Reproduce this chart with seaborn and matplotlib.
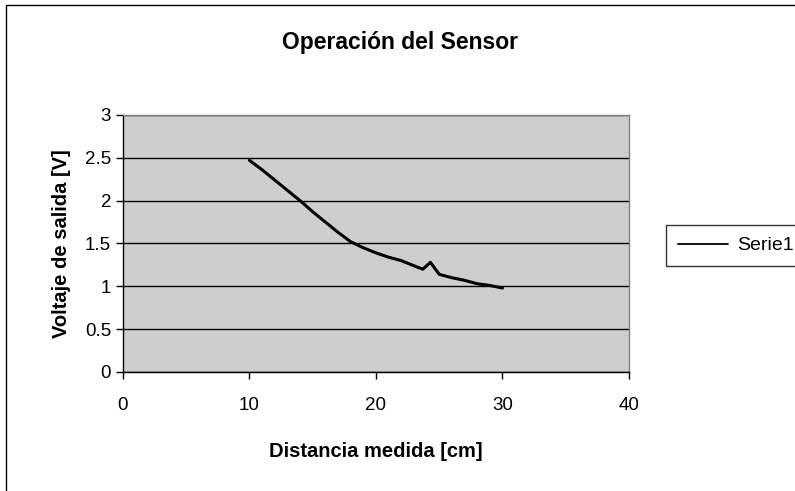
import matplotlib
matplotlib.use("Agg")
import matplotlib.pyplot as plt
import seaborn as sns
import pandas as pd
from matplotlib.patches import Rectangle

distance = [10, 11, 12, 13, 14, 15, 16, 17, 18, 19, 20, 21, 22, 23, 23.7, 24, 24.3, 24.6, 25, 26, 27, 28, 29, 30]
voltage = [2.47, 2.36, 2.24, 2.12, 2.00, 1.87, 1.75, 1.63, 1.52, 1.45, 1.39, 1.34, 1.30, 1.24, 1.20, 1.24, 1.28, 1.22, 1.14, 1.10, 1.07, 1.03, 1.01, 0.98]
series_name = "Serie1"
x_ticks = [0, 10, 20, 30, 40]
y_ticks = [0, 0.5, 1, 1.5, 2, 2.5, 3]
y_tick_labels = ["0", "0.5", "1", "1.5", "2", "2.5", "3"]

df = pd.DataFrame({"Distancia": distance, "Voltaje": voltage, "Serie": series_name})

sns.set_theme(style="white")
plt.rcParams['font.family'] = ['Liberation Sans', 'DejaVu Sans']
plt.rcParams['text.color'] = '#000000'
plt.rcParams['axes.labelcolor'] = '#000000'

fig = plt.figure(figsize=(7.95, 4.91), dpi=100)
ax = fig.add_axes([0.1547, 0.2424, 0.6365, 0.5234])
ax.set_facecolor("#cecece")

sns.lineplot(data=df, x="Distancia", y="Voltaje", hue="Serie", palette=["#000000"],
             linewidth=2.2, ax=ax, sort=False, estimator=None)

ax.set_xlim(0, 40)
ax.set_ylim(0, 3)
ax.set_xticks(x_ticks)
ax.set_yticks(y_ticks)
ax.set_yticklabels(y_tick_labels)
ax.yaxis.grid(True, color="#000000", linewidth=1.0)
ax.set_axisbelow(True)
ax.tick_params(axis="both", labelsize=13.5, colors="#000000", direction="out", length=5, width=1, left=True, bottom=True)
ax.tick_params(axis="x", pad=13)
for s in ["left", "bottom"]:
    ax.spines[s].set_color("#000000")
    ax.spines[s].set_linewidth(1.0)
for s in ["top", "right"]:
    ax.spines[s].set_color("#808080")
    ax.spines[s].set_linewidth(1.0)

ax.set_xlabel("Distancia medida [cm]", fontsize=14.5, fontweight="bold", labelpad=20)
ax.set_ylabel("Voltaje de salida [V]", fontsize=14.5, fontweight="bold", labelpad=10)
fig.text(0.503, 0.913, "Operación del Sensor", ha="center", va="center", fontsize=16.5, fontweight="bold")

leg = ax.legend(loc="center left", frameon=True, fontsize=14,
                handlelength=2.6, handletextpad=0.45, borderpad=0.6, fancybox=False,
                edgecolor="#000000", borderaxespad=0.0)
leg.get_frame().set_linewidth(1.0)
leg.set_bbox_to_anchor((0.838, 0.50), transform=fig.transFigure)
for line in leg.get_lines():
    line.set_linewidth(1.3)

fig.patches.append(Rectangle((0.008, -0.05), 1.1, 1.04, transform=fig.transFigure,
                             fill=False, edgecolor="#000000", linewidth=1.0))

fig.savefig("out.png", dpi=100)
